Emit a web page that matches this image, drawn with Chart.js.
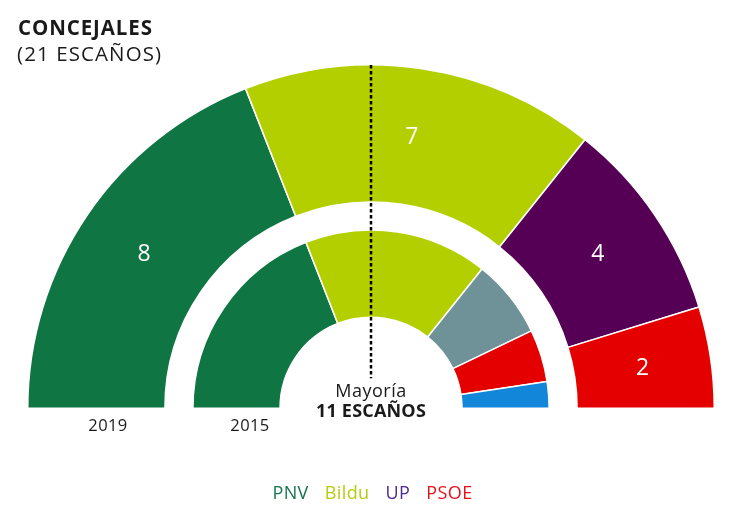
<!DOCTYPE html>
<html>
<head>
<meta charset="utf-8">
<script src="https://cdn.jsdelivr.net/npm/chart.js@4/dist/chart.umd.min.js"></script>
<style>
  html, body { margin: 0; padding: 0; background: #fff; }
  body { width: 745px; height: 511px; position: relative; overflow: hidden; font-family: "Open Sans", sans-serif; }
  #wrap { position: absolute; left: 0; top: 0; width: 745px; height: 511px; }
  .t { position: absolute; white-space: nowrap; color: #1a1a1a; }
  #title1 { left: 18px; top: 15px; font-size: 20.5px; font-weight: 700; line-height: 24px; letter-spacing: 0.9px; }
  #title2 { left: 17px; top: 41px; font-size: 20.5px; font-weight: 400; line-height: 24px; letter-spacing: 1.1px; }
  .year { font-size: 16.5px; top: 414px; transform: translateX(-50%); line-height: 22px; letter-spacing: 0.4px; }
  #may1 { left: 371px; top: 379px; font-size: 18px; transform: translateX(-50%); line-height: 22px; letter-spacing: 0.5px; }
  #may2 { left: 371px; top: 399px; font-size: 18px; font-weight: 700; transform: translateX(-50%); line-height: 22px; letter-spacing: 0.2px; }
  #legend { position: absolute; top: 480px; left: 0; width: 745px; text-align: center; font-size: 18px; line-height: 24px; }
  #legend span { margin: 0 8px; letter-spacing: 0.4px; }
</style>
</head>
<body>
<div id="wrap"><canvas id="c"></canvas></div>
<div class="t" id="title1">CONCEJALES</div>
<div class="t" id="title2">(21 ESCAÑOS)</div>
<div class="t year" id="y1" style="left:108px">2019</div>
<div class="t year" id="y2" style="left:250px">2015</div>
<div class="t" id="may1">Mayoría</div>
<div class="t" id="may2">11 ESCAÑOS</div>
<div id="legend"></div>
<script>
// ---- Data ----
const parties   = ['PNV', 'Bildu', 'UP', 'Otros', 'PSOE', 'PP'];
const seats2019 = [8, 7, 4, 0, 2, 0];
const seats2015 = [8, 7, 0, 3, 2, 1];
const years     = ['2019', '2015'];
const legendParties = ['PNV', 'Bildu', 'UP', 'PSOE'];
const totalSeats = 21;
const majority = 11;

// ---- Styles ----
const partyColors = {
  PNV: '#0F7543', Bildu: '#B4CF00', UP: '#550055', Otros: '#6F9198', PSOE: '#E50000', PP: '#1287DA'
};
const legendColors = { PNV: '#15764C', Bildu: '#B5CC10', UP: '#4E2A8A', PSOE: '#E8101A' };

document.getElementById('legend').innerHTML = legendParties
  .map(p => `<span style="color:${legendColors[p]}">${p}</span>`).join('');

const labelsPlugin = {
  id: 'seatLabels',
  afterDatasetsDraw(chart) {
    const ctx = chart.ctx;
    const meta = chart.getDatasetMeta(0);
    ctx.save();
    ctx.fillStyle = '#ffffff';
    ctx.font = '23px "Open Sans", sans-serif';
    ctx.textAlign = 'center';
    ctx.textBaseline = 'middle';
    meta.data.forEach((arc, i) => {
      const v = seats2019[i];
      if (!v) return;
      const p = arc.tooltipPosition();
      ctx.fillText(String(v), p.x, p.y + 1);
    });
    // majority dotted line at the middle of the hemicycle
    const a = meta.data[0];
    ctx.strokeStyle = '#000';
    ctx.lineWidth = 2.5;
    ctx.setLineDash([3.5, 2.5]);
    ctx.beginPath();
    ctx.moveTo(a.x, a.y - a.outerRadius);
    ctx.lineTo(a.x, a.y - 30);
    ctx.stroke();
    ctx.restore();
  }
};

new Chart(document.getElementById('c'), {
  type: 'doughnut',
  data: {
    labels: parties,
    datasets: [
      { label: years[0], data: seats2019, backgroundColor: parties.map(p => partyColors[p]),
        borderColor: '#ffffff', borderWidth: 1.5, weight: 137 },
      { label: 'gap', data: [totalSeats], backgroundColor: 'rgba(0,0,0,0)', borderWidth: 0, weight: 28 },
      { label: years[1], data: seats2015, backgroundColor: parties.map(p => partyColors[p]),
        borderColor: '#ffffff', borderWidth: 1.5, weight: 87 }
    ]
  },
  options: {
    responsive: true,
    maintainAspectRatio: false,
    animation: false,
    rotation: -90,
    circumference: 180,
    cutout: '26.5%',
    layout: { padding: { left: 27, right: 30, top: 64, bottom: 102 } },
    plugins: { legend: { display: false }, tooltip: { enabled: false } },
    events: []
  },
  plugins: [labelsPlugin]
});
</script>
</body>
</html>
